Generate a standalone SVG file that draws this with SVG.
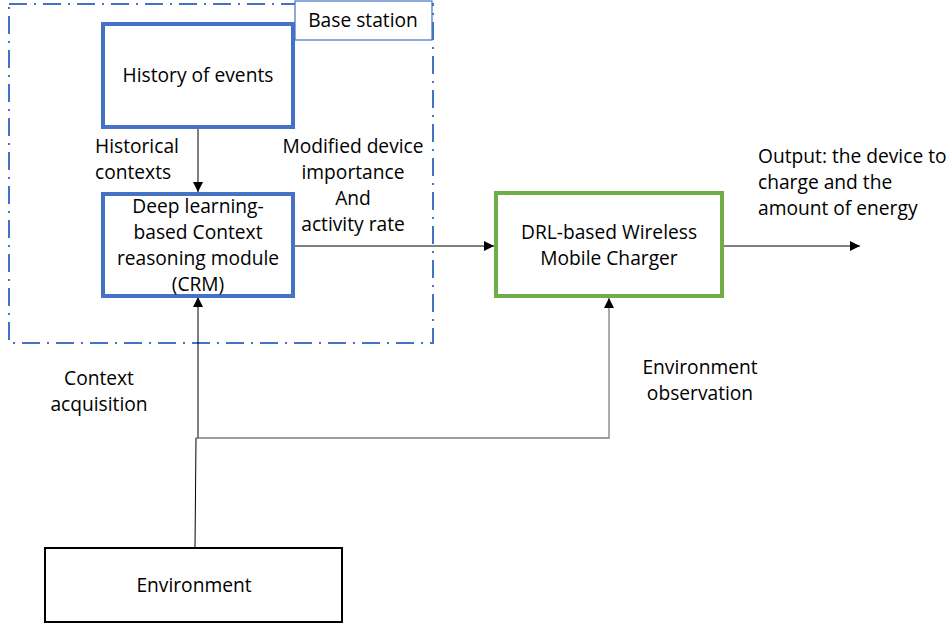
<svg xmlns="http://www.w3.org/2000/svg" width="951" height="628" viewBox="0 0 951 628">
<defs>
<marker id="arr" viewBox="0 0 10 10" refX="10" refY="5" markerWidth="10" markerHeight="10" markerUnits="userSpaceOnUse" orient="auto">
<path d="M0,0 L10,5 L0,10 z" fill="#000"/>
</marker>
<style>
text{font-family:"Open Sans","Liberation Sans",Arial,sans-serif;font-size:19.2px;fill:#000}
.c{text-anchor:middle}
.blue{fill:#fff;stroke:#4472C4;stroke-width:4}
.green{fill:#fff;stroke:#70AD47;stroke-width:4}
.line{fill:none;stroke:#000;stroke-width:1}
.gray{fill:none;stroke:#7f7f7f;stroke-width:1.3}
</style>
</defs>
<rect width="951" height="628" fill="#fff"/>
<g id="base-station">
<rect x="9" y="4" width="424" height="339" fill="none" stroke="#4472C4" stroke-width="2" stroke-dasharray="18,7,2,7"/>
<rect x="295" y="1" width="137" height="39" fill="#fff" stroke="#4472C4" stroke-width="1.2"/>
<text x="363" y="27" class="c">Base station</text>
</g>
<g id="connectors">
<line x1="198" y1="127" x2="198" y2="192" class="line" marker-end="url(#arr)"/>
<line x1="293" y1="246" x2="494" y2="246" class="line" marker-end="url(#arr)"/>
<line x1="723" y1="246" x2="860" y2="246" class="line" marker-end="url(#arr)"/>
<polyline points="195,548 196,438 198,438 198,297" class="line" marker-end="url(#arr)"/>
<polyline points="196,438 609,438 609,298" class="gray" marker-end="url(#arr)"/>
</g>
<g id="history">
<rect x="103" y="24" width="190" height="103" class="blue"/>
<text x="198" y="82" class="c">History of events</text>
</g>
<g id="crm">
<rect x="103" y="194" width="190" height="102" class="blue"/>
<text class="c"><tspan x="198" y="213">Deep learning-</tspan><tspan x="198" y="239">based Context</tspan><tspan x="198" y="265">reasoning module</tspan><tspan x="198" y="291">(CRM)</tspan></text>
</g>
<g id="charger">
<rect x="496" y="193" width="226" height="103" class="green"/>
<text class="c"><tspan x="609" y="239">DRL-based Wireless</tspan><tspan x="609" y="265">Mobile Charger</tspan></text>
</g>
<g id="environment">
<rect x="45" y="548" width="297" height="74" fill="#fff" stroke="#000" stroke-width="2"/>
<text x="194" y="592" class="c">Environment</text>
</g>
<g id="labels">
<text><tspan x="95" y="153">Historical</tspan><tspan x="95" y="179">contexts</tspan></text>
<text class="c"><tspan x="353" y="153">Modified device</tspan><tspan x="353" y="179">importance</tspan><tspan x="353" y="205">And</tspan><tspan x="353" y="231">activity rate</tspan></text>
<text><tspan x="758" y="163">Output: the device to</tspan><tspan x="758" y="189">charge and the</tspan><tspan x="758" y="215">amount of energy</tspan></text>
<text class="c"><tspan x="99" y="385">Context</tspan><tspan x="99" y="411">acquisition</tspan></text>
<text class="c"><tspan x="700" y="374">Environment</tspan><tspan x="700" y="400">observation</tspan></text>
</g>
</svg>
